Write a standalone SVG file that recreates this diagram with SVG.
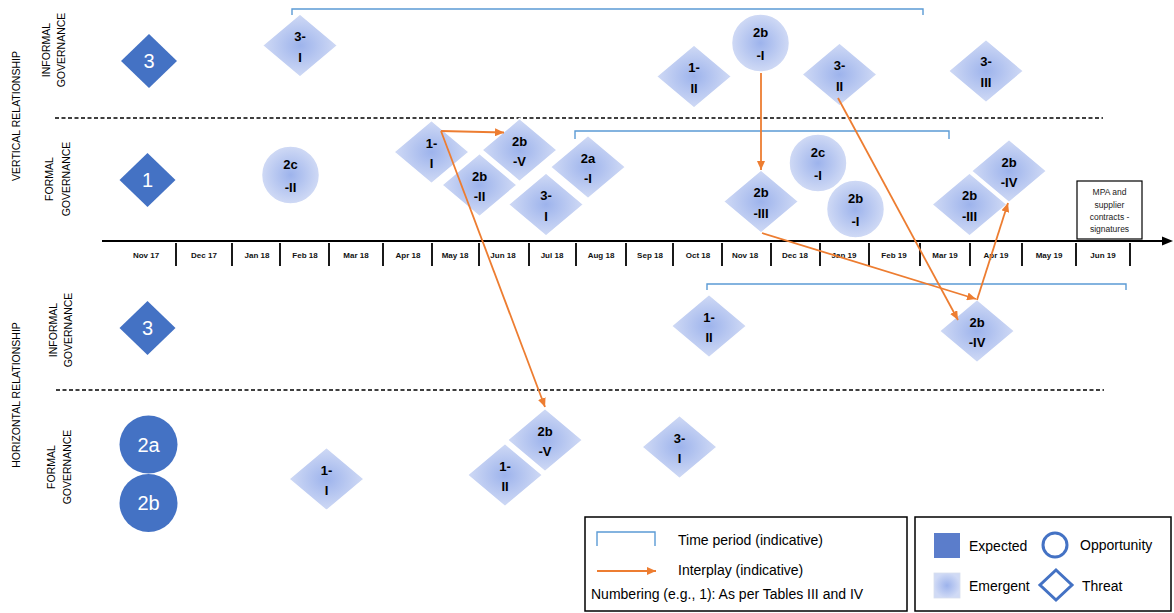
<svg xmlns="http://www.w3.org/2000/svg" xmlns:xlink="http://www.w3.org/1999/xlink" width="1174" height="613" viewBox="0 0 1174 613">
<style>
.lbl{font-family:"Liberation Sans",Arial,sans-serif;font-size:10.5px;fill:#000}
.mon{font-family:"Liberation Sans",Arial,sans-serif;font-size:8px;font-weight:bold;fill:#111;text-anchor:middle}
.nt{font-family:"Liberation Sans",Arial,sans-serif;font-size:13px;font-weight:bold;fill:#000;text-anchor:middle}
.et{font-family:"Liberation Sans",Arial,sans-serif;font-size:20px;fill:#fff;text-anchor:middle}
.lg{font-family:"Liberation Sans",Arial,sans-serif;font-size:14px;fill:#000}
.em{fill:url(#eg);stroke:#fff;stroke-width:1.5}
.ex{fill:#4472C4}
.dash{stroke:#000;stroke-width:1.5;stroke-dasharray:4 2.5;fill:none}
.tick{stroke:#000;stroke-width:1.8}
.brk{fill:none;stroke:#5B9BD5;stroke-width:1.4}
.arr{stroke:#ED7D31;stroke-width:1.8;fill:none;marker-end:url(#ah)}
</style>
<defs>
<radialGradient id="eg" cx="50%" cy="50%" r="50%">
<stop offset="0" stop-color="#9DB3EC"/>
<stop offset="1" stop-color="#D0DAF5"/>
</radialGradient>
<polygon id="dia" points="0,-31.5 37.5,0 0,31.5 -37.5,0"/>
<polygon id="edia" points="0,-27 28,0 0,27 -28,0"/>
<marker id="ah" markerUnits="userSpaceOnUse" markerWidth="9" markerHeight="8" refX="9" refY="4" orient="auto">
<path d="M0,0 L9,4 L0,8 z" fill="#ED7D31"/>
</marker>
</defs>
<rect width="1174" height="613" fill="#fff"/>

<g id="axis-labels">
<text class="lbl" transform="translate(20,116) rotate(-90)" text-anchor="middle">VERTICAL RELATIONSHIP</text>
<text class="lbl" transform="translate(50,50) rotate(-90)" text-anchor="middle">INFORMAL</text>
<text class="lbl" transform="translate(65,50) rotate(-90)" text-anchor="middle">GOVERNANCE</text>
<text class="lbl" transform="translate(53,179) rotate(-90)" text-anchor="middle">FORMAL</text>
<text class="lbl" transform="translate(70,179) rotate(-90)" text-anchor="middle">GOVERNANCE</text>
<text class="lbl" transform="translate(20,395) rotate(-90)" text-anchor="middle">HORIZONTAL RELATIONSHIP</text>
<text class="lbl" transform="translate(57,330) rotate(-90)" text-anchor="middle">INFORMAL</text>
<text class="lbl" transform="translate(72,330) rotate(-90)" text-anchor="middle">GOVERNANCE</text>
<text class="lbl" transform="translate(55,467) rotate(-90)" text-anchor="middle">FORMAL</text>
<text class="lbl" transform="translate(71,467) rotate(-90)" text-anchor="middle">GOVERNANCE</text>
</g>

<g id="dividers">
<line class="dash" x1="55" y1="118" x2="1103" y2="118"/>
<line class="dash" x1="56" y1="390" x2="1104" y2="390"/>
</g>

<g id="timeline">
<line x1="102" y1="241" x2="1164" y2="241" stroke="#000" stroke-width="2"/>
<path d="M1162,236.5 L1173,241 L1162,245.5 z" fill="#000"/>
<g>
<line class="tick" x1="176" y1="243" x2="176" y2="266"/>
<line class="tick" x1="232" y1="243" x2="232" y2="266"/>
<line class="tick" x1="280" y1="243" x2="280" y2="266"/>
<line class="tick" x1="329" y1="243" x2="329" y2="266"/>
<line class="tick" x1="383" y1="243" x2="383" y2="266"/>
<line class="tick" x1="432" y1="243" x2="432" y2="266"/>
<line class="tick" x1="479" y1="243" x2="479" y2="266"/>
<line class="tick" x1="529" y1="243" x2="529" y2="266"/>
<line class="tick" x1="576" y1="243" x2="576" y2="266"/>
<line class="tick" x1="626" y1="243" x2="626" y2="266"/>
<line class="tick" x1="673" y1="243" x2="673" y2="266"/>
<line class="tick" x1="722" y1="243" x2="722" y2="266"/>
<line class="tick" x1="771" y1="243" x2="771" y2="266"/>
<line class="tick" x1="820" y1="243" x2="820" y2="266"/>
<line class="tick" x1="869" y1="243" x2="869" y2="266"/>
<line class="tick" x1="920" y1="243" x2="920" y2="266"/>
<line class="tick" x1="970" y1="243" x2="970" y2="266"/>
<line class="tick" x1="1022" y1="243" x2="1022" y2="266"/>
<line class="tick" x1="1076" y1="243" x2="1076" y2="266"/>
<line class="tick" x1="1130" y1="243" x2="1130" y2="266"/>
</g>
<g>
<text class="mon" x="146" y="258">Nov 17</text>
<text class="mon" x="204" y="258">Dec 17</text>
<text class="mon" x="257" y="258">Jan 18</text>
<text class="mon" x="305" y="258">Feb 18</text>
<text class="mon" x="356" y="258">Mar 18</text>
<text class="mon" x="408" y="258">Apr 18</text>
<text class="mon" x="455" y="258">May 18</text>
<text class="mon" x="503" y="258">Jun 18</text>
<text class="mon" x="552" y="258">Jul 18</text>
<text class="mon" x="601" y="258">Aug 18</text>
<text class="mon" x="650" y="258">Sep 18</text>
<text class="mon" x="698" y="258">Oct 18</text>
<text class="mon" x="745" y="258">Nov 18</text>
<text class="mon" x="795" y="258">Dec 18</text>
<text class="mon" x="844" y="258">Jan 19</text>
<text class="mon" x="894" y="258">Feb 19</text>
<text class="mon" x="945" y="258">Mar 19</text>
<text class="mon" x="996" y="258">Apr 19</text>
<text class="mon" x="1049" y="258">May 19</text>
<text class="mon" x="1103" y="258">Jun 19</text>
</g>
</g>

<g id="time-periods">
<path class="brk" d="M292,15 V9 H923 V15"/>
<path class="brk" d="M575,139 V131 H949 V139"/>
<path class="brk" d="M707,290 V284 H1126 V290" stroke="#7F98B8"/>
</g>

<g id="expected-nodes">
<g id="exp-v-inf-3"><use href="#edia" x="149" y="61" class="ex"/><text class="et" x="149" y="68">3</text></g>
<g id="exp-v-for-1"><use href="#edia" x="147.5" y="180" class="ex"/><text class="et" x="147.5" y="187">1</text></g>
<g id="exp-h-inf-3"><use href="#edia" x="147.5" y="328" class="ex"/><text class="et" x="147.5" y="335">3</text></g>
<g id="exp-h-for-2a"><circle cx="148.5" cy="444.5" r="29" class="ex"/><text class="et" x="148.5" y="451.5">2a</text></g>
<g id="exp-h-for-2b"><circle cx="148.5" cy="503" r="29" class="ex"/><text class="et" x="148.5" y="510">2b</text></g>
</g>

<g id="emergent-nodes">
<g id="vi-3-I"><use href="#dia" x="300" y="45.5" class="em"/><text class="nt" x="300" y="41">3-</text><text class="nt" x="300" y="62">I</text></g>
<g id="vi-1-II"><use href="#dia" x="694" y="76.5" class="em"/><text class="nt" x="694" y="72">1-</text><text class="nt" x="694" y="93">II</text></g>
<g id="vi-2b-I"><circle cx="760.5" cy="43" r="29" class="em" stroke="none"/><text class="nt" x="760.5" y="37">2b</text><text class="nt" x="760.5" y="60">-I</text></g>
<g id="vi-3-II"><use href="#dia" x="839.5" y="74.5" class="em"/><text class="nt" x="839.5" y="70">3-</text><text class="nt" x="839.5" y="91">II</text></g>
<g id="vi-3-III"><use href="#dia" x="986" y="71" class="em"/><text class="nt" x="986" y="66">3-</text><text class="nt" x="986" y="87">III</text></g>

<g id="vf-2c-II"><circle cx="290.5" cy="175" r="29" class="em" stroke="none"/><text class="nt" x="290.5" y="169">2c</text><text class="nt" x="290.5" y="192">-II</text></g>
<g id="vf-1-I"><use href="#dia" x="431.5" y="152" class="em"/><text class="nt" x="431.5" y="147.5">1-</text><text class="nt" x="431.5" y="168">I</text></g>
<g id="vf-2b-V"><use href="#dia" x="519.5" y="150" class="em"/><text class="nt" x="519.5" y="145.5">2b</text><text class="nt" x="519.5" y="166">-V</text></g>
<g id="vf-2b-II"><use href="#dia" x="479.5" y="185" class="em"/><text class="nt" x="479.5" y="180.5">2b</text><text class="nt" x="479.5" y="201">-II</text></g>
<g id="vf-2a-I"><use href="#dia" x="588" y="167" class="em"/><text class="nt" x="588" y="162.5">2a</text><text class="nt" x="588" y="183">-I</text></g>
<g id="vf-3-I"><use href="#dia" x="546" y="204.5" class="em"/><text class="nt" x="546" y="200">3-</text><text class="nt" x="546" y="220.5">I</text></g>
<g id="vf-2b-III"><use href="#dia" x="761" y="201.5" class="em"/><text class="nt" x="761" y="197">2b</text><text class="nt" x="761" y="217.5">-III</text></g>
<g id="vf-2c-I"><circle cx="818" cy="163" r="29" class="em" stroke="none"/><text class="nt" x="818" y="157">2c</text><text class="nt" x="818" y="180">-I</text></g>
<g id="vf-2b-I"><circle cx="855.5" cy="209" r="29" class="em" stroke="none"/><text class="nt" x="855.5" y="203">2b</text><text class="nt" x="855.5" y="226">-I</text></g>
<g id="vf-2b-III-b"><use href="#dia" x="969.5" y="204.5" class="em"/><text class="nt" x="969.5" y="200">2b</text><text class="nt" x="969.5" y="220.5">-III</text></g>
<g id="vf-2b-IV"><use href="#dia" x="1009" y="171" class="em"/><text class="nt" x="1009" y="166.5">2b</text><text class="nt" x="1009" y="187">-IV</text></g>

<g id="hi-1-II"><use href="#dia" x="709" y="326" class="em"/><text class="nt" x="709" y="321.5">1-</text><text class="nt" x="709" y="342">II</text></g>
<g id="hi-2b-IV"><use href="#dia" x="977" y="331" class="em"/><text class="nt" x="977" y="326.5">2b</text><text class="nt" x="977" y="347">-IV</text></g>

<g id="hf-1-I"><use href="#dia" x="326.5" y="479" class="em"/><text class="nt" x="326.5" y="474.5">1-</text><text class="nt" x="326.5" y="495">I</text></g>
<g id="hf-2b-V"><use href="#dia" x="545" y="440" class="em"/><text class="nt" x="545" y="435.5">2b</text><text class="nt" x="545" y="456">-V</text></g>
<g id="hf-1-II"><use href="#dia" x="505" y="475" class="em"/><text class="nt" x="505" y="470.5">1-</text><text class="nt" x="505" y="491">II</text></g>
<g id="hf-3-I"><use href="#dia" x="679.5" y="447" class="em"/><text class="nt" x="679.5" y="442.5">3-</text><text class="nt" x="679.5" y="463">I</text></g>
</g>

<g id="mpa-box">
<rect x="1077" y="181" width="65" height="58" fill="#fff" stroke="#000" stroke-width="1.2"/>
<g font-family="'Liberation Sans',Arial,sans-serif" font-size="8.5" text-anchor="middle" fill="#222">
<text x="1109.5" y="195">MPA and</text>
<text x="1109.5" y="207.5">supplier</text>
<text x="1109.5" y="220">contracts -</text>
<text x="1109.5" y="232">signatures</text>
</g>
</g>

<g id="connectors">
<line class="arr" x1="441" y1="131" x2="504" y2="132.5"/>
<line class="arr" x1="441" y1="131" x2="545" y2="407"/>
<line class="arr" x1="761" y1="73" x2="761" y2="170"/>
<line class="arr" x1="762" y1="233" x2="976" y2="299"/>
<line class="arr" x1="838" y1="98" x2="958" y2="320"/>
<line class="arr" x1="977" y1="300" x2="1008" y2="203"/>
</g>

<g id="legend-lines">
<rect x="585" y="517" width="322" height="94" fill="#fff" stroke="#000" stroke-width="1.5"/>
<path class="brk" d="M597,546 V532 H655 V546"/>
<text class="lg" x="678" y="545">Time period (indicative)</text>
<line class="arr" x1="597" y1="571" x2="656" y2="571"/>
<text class="lg" x="678" y="574.5">Interplay (indicative)</text>
<text class="lg" x="591" y="598.5">Numbering (e.g., 1):  As per Tables III and IV</text>
</g>

<g id="legend-shapes">
<rect x="915" y="517" width="256" height="94" fill="#fff" stroke="#000" stroke-width="1.5"/>
<rect x="934" y="533" width="26" height="25" fill="#5B7DCB"/>
<text class="lg" x="969" y="550.5">Expected</text>
<rect x="934" y="573" width="26" height="25" fill="url(#eg)" stroke="#d8dfee" stroke-width="0.8"/>
<text class="lg" x="969" y="590.5">Emergent</text>
<circle cx="1055" cy="545" r="12" fill="none" stroke="#4472C4" stroke-width="3"/>
<text class="lg" x="1080" y="549.5">Opportunity</text>
<polygon points="1056,570 1072,585 1056,600 1040,585" fill="none" stroke="#4472C4" stroke-width="3"/>
<text class="lg" x="1082" y="590.5">Threat</text>
</g>
</svg>
